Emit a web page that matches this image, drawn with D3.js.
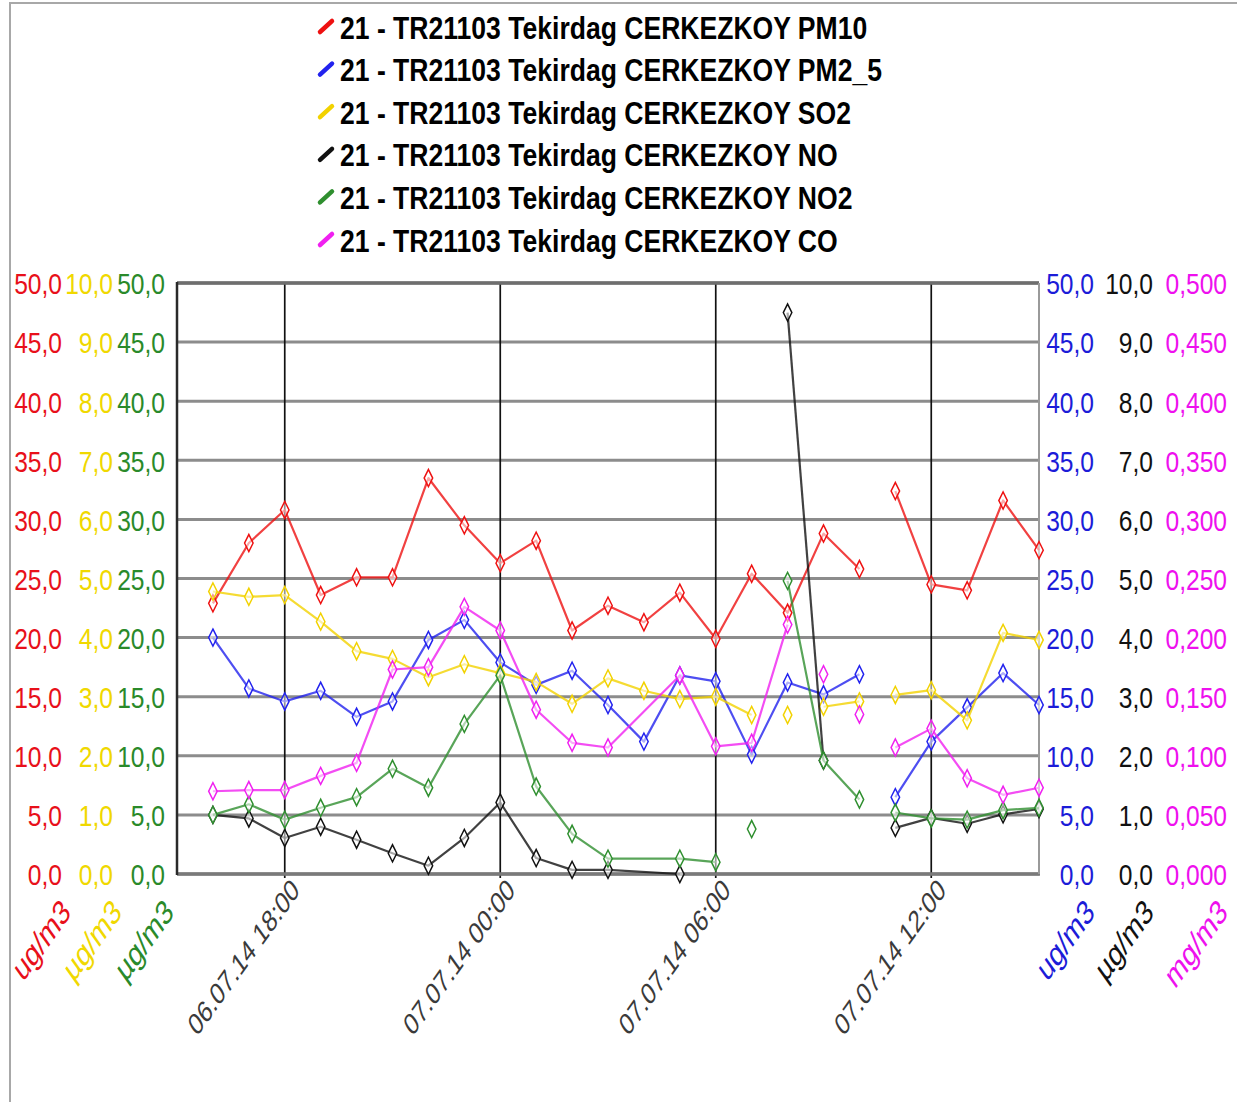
<!DOCTYPE html>
<html>
<head>
<meta charset="utf-8">
<script src="https://cdn.jsdelivr.net/npm/d3@7"></script>
<style>
  html, body { margin: 0; padding: 0; background: #fff; }
  svg { display: block; }
</style>
</head>
<body>
<svg id="chart" width="1237" height="1102"></svg>
<script>
// Hourly readings, station 21 - TR21103 Tekirdag CERKEZKOY
const hours = [
  "06.07.14 16:00", "06.07.14 17:00", "06.07.14 18:00", "06.07.14 19:00",
  "06.07.14 20:00", "06.07.14 21:00", "06.07.14 22:00", "06.07.14 23:00",
  "07.07.14 00:00", "07.07.14 01:00", "07.07.14 02:00", "07.07.14 03:00",
  "07.07.14 04:00", "07.07.14 05:00", "07.07.14 06:00", "07.07.14 07:00",
  "07.07.14 08:00", "07.07.14 09:00", "07.07.14 10:00", "07.07.14 11:00",
  "07.07.14 12:00", "07.07.14 13:00", "07.07.14 14:00", "07.07.14 15:00"
];

const pm10 = [22.9, 28.0, 30.8, 23.6, 25.1, 25.1, 33.5, 29.5, 26.3, 28.2, 20.6, 22.7,
              21.3, 23.8, 19.9, 25.4, 22.1, 28.8, 25.8, 32.4, 24.5, 24.0, 31.6, 27.4];
const pm25 = [20.0, 15.7, 14.6, 15.5, 13.3, 14.6, 19.8, 21.5, 17.9, 16.0, 17.2, 14.3,
              11.2, 16.8, 16.3, 10.1, 16.2, 15.2, 16.9, 6.5, 11.2, 14.1, 17.0, 14.3];
const so2  = [4.78, 4.69, 4.72, 4.27, 3.77, 3.64, 3.33, 3.55, 3.40, 3.25, 2.88, 3.31,
              3.10, 2.96, 3.00, 2.69, 2.69, 2.83, 2.92, 3.03, 3.11, 2.60, 4.08, 3.96];
const no   = [1.00, 0.94, 0.61, 0.80, 0.58, 0.35, 0.14, 0.61, 1.21, 0.27, 0.07, 0.07,
              null, 0.00, null, null, 9.50, 1.92, null, 0.78, 0.95, 0.85, 1.01, 1.10];
const no2  = [5.0, 5.9, 4.6, 5.6, 6.5, 8.9, 7.3, 12.7, 16.8, 7.4, 3.4, 1.3,
              null, 1.3, 1.0, 3.8, 24.8, 9.6, 6.3, 5.2, 4.7, 4.6, 5.4, 5.6];
const co   = [0.070, 0.071, 0.071, 0.083, 0.094, 0.173, 0.175, 0.226, 0.206, 0.139, 0.111, 0.107,
              null, 0.168, 0.108, 0.111, 0.211, 0.169, 0.135, 0.107, 0.123, 0.081, 0.067, 0.073];

// Hours at which a series starts a new, unconnected line piece
const pm10Breaks = ["07.07.14 11:00"];
const pm25Breaks = ["07.07.14 11:00"];
const so2Breaks  = ["07.07.14 08:00", "07.07.14 09:00", "07.07.14 11:00"];
const noBreaks   = ["07.07.14 08:00", "07.07.14 11:00"];
const no2Breaks  = ["07.07.14 07:00", "07.07.14 08:00", "07.07.14 11:00"];
const coBreaks   = ["07.07.14 09:00", "07.07.14 10:00", "07.07.14 11:00"];

const timeDomain = ["06.07.14 15:00", "07.07.14 15:00"];
const legendLabels = [
  "21 - TR21103 Tekirdag CERKEZKOY PM10",
  "21 - TR21103 Tekirdag CERKEZKOY PM2_5",
  "21 - TR21103 Tekirdag CERKEZKOY SO2",
  "21 - TR21103 Tekirdag CERKEZKOY NO",
  "21 - TR21103 Tekirdag CERKEZKOY NO2",
  "21 - TR21103 Tekirdag CERKEZKOY CO"
];
const unitLabels = ["ug/m3", "µg/m3", "µg/m3", "ug/m3", "µg/m3", "mg/m3"];
const axisMax = [50, 10, 50, 50, 10, 0.5];

const parse = d3.timeParse("%d.%m.%y %H:%M");
const fmtTime = d3.timeFormat("%d.%m.%y %H:%M");
const locale = d3.formatLocale({decimal: ",", thousands: ".", grouping: [3], currency: ["", ""]});
const f1 = locale.format(".1f"), f3 = locale.format(".3f");

const svg = d3.select("#chart");
const W = 1237, H = 1102;
const plot = {left: 177, right: 1039, top: 283, bottom: 874};

const sans = "'Liberation Sans', Arial, sans-serif";
const condense = 0.82; // narrow lettering

// page border
svg.append("rect").attr("x", 10).attr("y", 3).attr("width", W).attr("height", H)
  .attr("fill", "#fff").attr("stroke", "#a8a8a8").attr("stroke-width", 2);

const x = d3.scaleTime().domain(timeDomain.map(parse)).range([plot.left, plot.right]);
const yRange = [plot.bottom, plot.top];
const yPM10 = d3.scaleLinear().domain([0, axisMax[0]]).range(yRange);
const ySO2  = d3.scaleLinear().domain([0, axisMax[1]]).range(yRange);
const yNO2  = d3.scaleLinear().domain([0, axisMax[2]]).range(yRange);
const yPM25 = d3.scaleLinear().domain([0, axisMax[3]]).range(yRange);
const yNO   = d3.scaleLinear().domain([0, axisMax[4]]).range(yRange);
const yCO   = d3.scaleLinear().domain([0, axisMax[5]]).range(yRange);

const colors = {
  pm10: "#ee1111", pm25: "#2222ee", so2: "#f2d200",
  no: "#111111", no2: "#2f8f2f", co: "#f020f0"
};
const labelColors = ["#e8101a", "#f0d800", "#2a8a2a", "#1c1cd8", "#111111", "#ee10ee"];

// horizontal grid
svg.append("g").selectAll("line")
  .data(yPM10.ticks(10))
  .join("line")
  .attr("x1", plot.left).attr("x2", plot.right)
  .attr("y1", d => yPM10(d)).attr("y2", d => yPM10(d))
  .attr("stroke", "#8c8c8c").attr("stroke-width", 3);

// vertical 6-hour lines with ticks below the frame
const sixHours = x.ticks(d3.timeHour.every(6));
svg.append("g").selectAll("line")
  .data(sixHours)
  .join("line")
  .attr("x1", d => x(d)).attr("x2", d => x(d))
  .attr("y1", plot.top).attr("y2", plot.bottom + 4)
  .attr("stroke", "#111").attr("stroke-width", 1.7);

// frame
svg.append("line").attr("x1", plot.left).attr("x2", plot.right).attr("y1", plot.top).attr("y2", plot.top)
  .attr("stroke", "#6e6e6e").attr("stroke-width", 3.5);
svg.append("line").attr("x1", plot.left).attr("x2", plot.right + 1).attr("y1", plot.bottom).attr("y2", plot.bottom)
  .attr("stroke", "#7a7a7a").attr("stroke-width", 3.5);
svg.append("line").attr("x1", plot.left).attr("x2", plot.left).attr("y1", plot.top - 1).attr("y2", plot.bottom + 1)
  .attr("stroke", "#2a2a2a").attr("stroke-width", 2.5);
svg.append("line").attr("x1", plot.right).attr("x2", plot.right).attr("y1", plot.top).attr("y2", plot.bottom)
  .attr("stroke", "#9a9a9a").attr("stroke-width", 2);

// value axes: three on each side
const axes = [
  {scale: yPM10, fmt: f1, xPos: 62},
  {scale: ySO2,  fmt: f1, xPos: 113},
  {scale: yNO2,  fmt: f1, xPos: 165},
  {scale: yPM25, fmt: f1, xPos: 1094},
  {scale: yNO,   fmt: f1, xPos: 1153},
  {scale: yCO,   fmt: f3, xPos: 1227}
];
axes.forEach((a, i) => {
  const g = svg.append("g")
    .attr("transform", `translate(${a.xPos},0)`)
    .call(d3.axisLeft(a.scale).ticks(10).tickFormat(a.fmt).tickSize(0).tickPadding(0));
  g.select(".domain").remove();
  g.selectAll("text")
    .attr("x", 0)
    .attr("transform", `scale(${condense},1)`)
    .attr("fill", labelColors[i])
    .attr("font-family", sans)
    .attr("font-size", 30)
    .attr("font-weight", "normal")
    .attr("dy", "0.36em");
});

// unit captions under the value axes
const unitAnchors = [72, 123, 175, 1096, 1155, 1229];
svg.append("g").selectAll("text")
  .data(unitLabels)
  .join("text")
  .attr("transform", (d, i) => `translate(${unitAnchors[i]},${plot.bottom + 40}) scale(1,1.4) rotate(-45)`)
  .attr("text-anchor", "end")
  .attr("font-family", sans)
  .attr("font-size", 25)
  .attr("fill", (d, i) => labelColors[i])
  .text(d => d);

// time labels
svg.append("g").selectAll("text")
  .data(sixHours)
  .join("text")
  .attr("transform", d => `translate(${x(d) + 16},${plot.bottom + 18}) scale(1,1.4) rotate(-45)`)
  .attr("text-anchor", "end")
  .attr("font-family", sans)
  .attr("font-size", 22)
  .attr("fill", "#3a3a3a")
  .text(d => fmtTime(d));

// series
const seriesList = [
  {key: "pm10", values: pm10, breaks: pm10Breaks, y: yPM10},
  {key: "pm25", values: pm25, breaks: pm25Breaks, y: yPM25},
  {key: "so2",  values: so2,  breaks: so2Breaks,  y: ySO2},
  {key: "no",   values: no,   breaks: noBreaks,   y: yNO},
  {key: "no2",  values: no2,  breaks: no2Breaks,  y: yNO2},
  {key: "co",   values: co,   breaks: coBreaks,   y: yCO}
];

const diamond = d3.symbol().type(d3.symbolDiamond).size(70);

seriesList.forEach(s => {
  const pts = hours.map((h, i) => ({t: parse(h), label: h, v: s.values[i]}))
    .filter(d => d.v !== null);
  const pieces = [];
  pts.forEach(p => {
    if (pieces.length === 0 || s.breaks.includes(p.label)) pieces.push([p]);
    else pieces[pieces.length - 1].push(p);
  });
  const line = d3.line().x(d => x(d.t)).y(d => s.y(d.v));
  const g = svg.append("g");
  g.selectAll("path.seg")
    .data(pieces.filter(p => p.length > 1))
    .join("path")
    .attr("class", "seg")
    .attr("d", line)
    .attr("fill", "none")
    .attr("stroke", colors[s.key])
    .attr("stroke-width", 2.2)
    .attr("stroke-opacity", 0.8)
    .attr("stroke-linejoin", "round");
  g.selectAll("path.mark")
    .data(pts)
    .join("path")
    .attr("class", "mark")
    .attr("d", diamond)
    .attr("transform", d => `translate(${x(d.t)},${s.y(d.v)}) scale(0.95,1.1)`)
    .attr("fill", "#fff")
    .attr("fill-opacity", 0.55)
    .attr("stroke", colors[s.key])
    .attr("stroke-width", 1.5);
});

// legend
const legend = svg.append("g");
const legendColors = ["pm10", "pm25", "so2", "no", "no2", "co"].map(k => colors[k]);
legendLabels.forEach((lab, i) => {
  const cy = 27 + i * 42.6;
  legend.append("line")
    .attr("x1", 320).attr("y1", cy + 5).attr("x2", 332).attr("y2", cy - 6)
    .attr("stroke", legendColors[i]).attr("stroke-width", 4.5).attr("stroke-linecap", "round");
  legend.append("text")
    .attr("transform", `translate(340,${cy}) scale(0.83,1)`)
    .attr("dy", "0.36em")
    .attr("font-family", sans)
    .attr("font-weight", "bold")
    .attr("font-size", 32)
    .attr("fill", "#000")
    .text(lab);
});
</script>
</body>
</html>
